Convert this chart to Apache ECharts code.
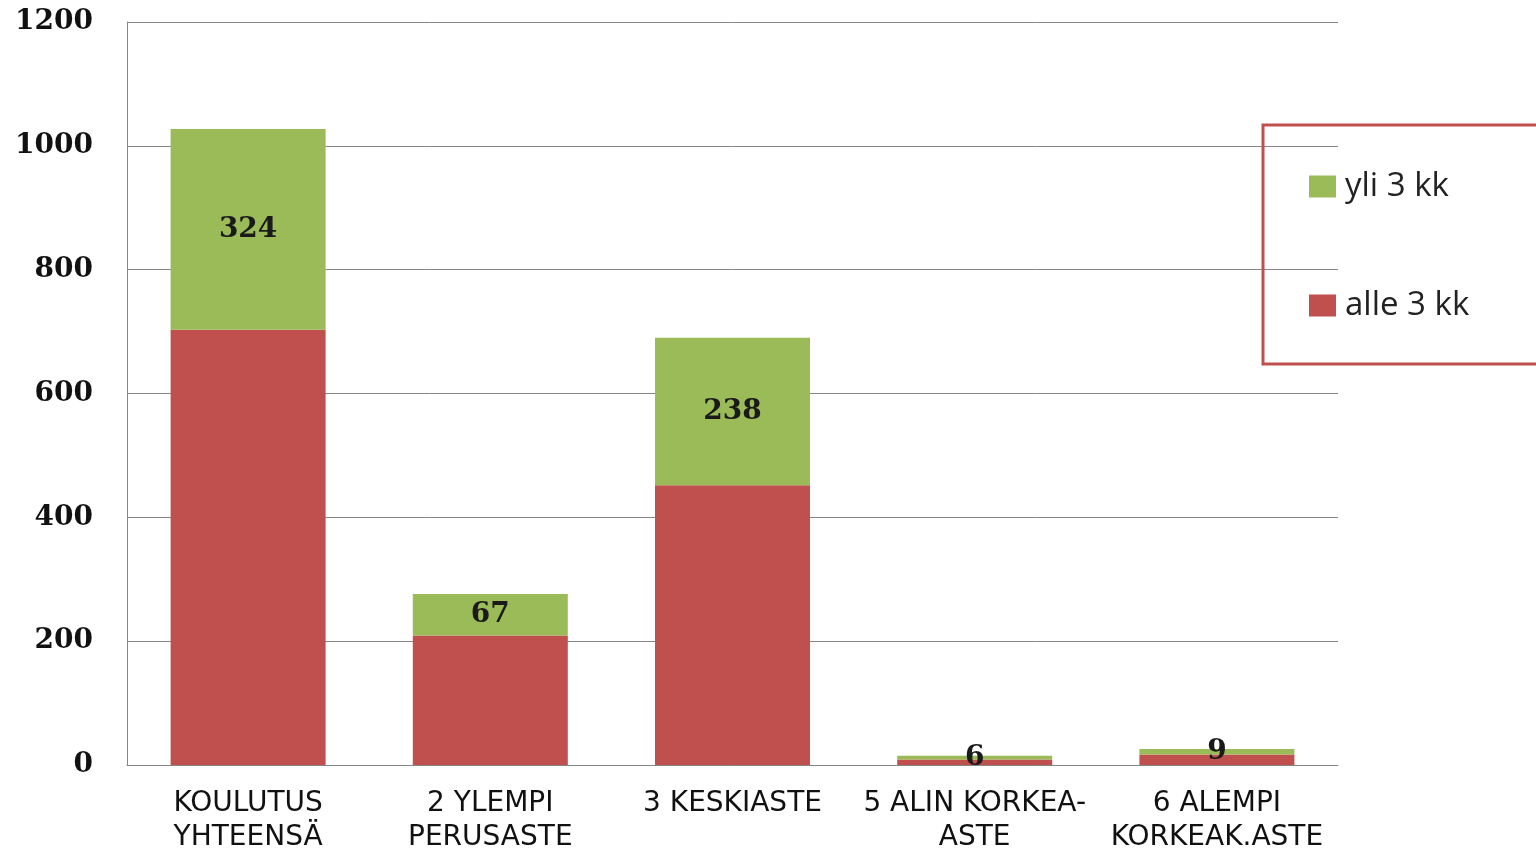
<!DOCTYPE html>
<html><head><meta charset="utf-8">
<script src="https://cdn.jsdelivr.net/npm/echarts@6/dist/echarts.min.js"></script>
<style>html,body{margin:0;padding:0;background:#fff;}#c{width:1536px;height:851px;}</style>
</head><body><div id="c"></div>
<script>
const categories = ["KOULUTUS\nYHTEENSÄ", "2 YLEMPI\nPERUSASTE", "3 KESKIASTE", "5 ALIN KORKEA-\nASTE", "6 ALEMPI\nKORKEAK.ASTE"];
const alle3kk = [703, 209, 452, 9, 17];
const yli3kk = [324, 67, 238, 6, 9];
const yTicks = [0, 200, 400, 600, 800, 1000, 1200];

const chart = echarts.init(document.getElementById('c'));
chart.setOption({
  animation: false,
  backgroundColor: '#fff',
  grid: { left: 127, right: 198, top: 22, bottom: 86, outerBoundsMode: 'none', containLabel: false },
  legend: {
    orient: 'vertical', left: 1263, top: 125,
    data: ['yli 3 kk', 'alle 3 kk'],
    padding: [45, 120, 42, 46],
    itemGap: 86, itemWidth: 27, itemHeight: 22,
    borderColor: '#C0504D', borderWidth: 3,
    textStyle: { fontFamily: 'Open Sans', fontSize: 33, color: '#222', padding: [0, 0, 0, 4] },
    icon: 'rect'
  },
  xAxis: {
    type: 'category', data: categories,
    axisLine: { lineStyle: { color: '#868686', width: 1 } },
    axisTick: { show: false },
    axisLabel: { interval: 0, margin: 22, fontFamily: 'DejaVu Sans', fontSize: 28, color: '#111', lineHeight: 34 }
  },
  yAxis: {
    type: 'value', min: 0, max: 1200, interval: 200,
    axisLine: { show: true, lineStyle: { color: '#868686' } },
    axisTick: { show: false },
    splitLine: { lineStyle: { color: '#868686', width: 1 } },
    axisLabel: { margin: 34, fontFamily: 'DejaVu Serif', fontWeight: 'bold', fontSize: 28, color: '#111',
      formatter: v => yTicks.includes(v) ? String(v) : '' }
  },
  series: [
    { name: 'alle 3 kk', type: 'bar', stack: 's', data: alle3kk, barWidth: 155,
      itemStyle: { color: '#C0504D' } },
    { name: 'yli 3 kk', type: 'bar', stack: 's', data: yli3kk, barWidth: 155,
      itemStyle: { color: '#9BBB59' },
      label: { show: true, position: 'inside', fontFamily: 'DejaVu Serif', fontWeight: 'bold', fontSize: 28, color: '#1a1a1a' } }
  ]
});
</script></body></html>
